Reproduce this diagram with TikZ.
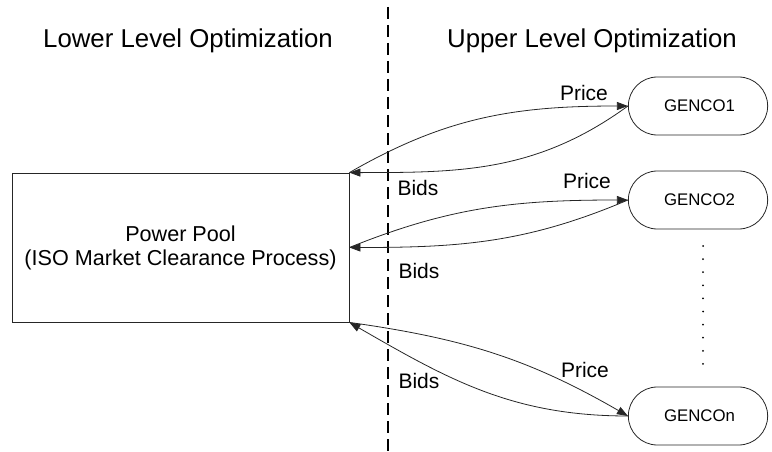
\documentclass[tikz,border=0pt]{standalone}
\usepackage{fontspec}
\setmainfont{Liberation Sans}
\usetikzlibrary{arrows.meta,shapes.misc}

\tikzset{
  every picture/.style={x=1pt,y=1pt},
  line/.style={draw=black!85, line width=0.8pt},
  flow/.style={line, -{Triangle[length=11pt,width=8pt]}},
  pool/.style={line, rectangle, minimum width=337pt, minimum height=149pt,
    align=center, font=\fontsize{21.6}{24}\selectfont},
  genco/.style={line, rounded rectangle, minimum width=146pt, minimum height=58pt,
    font=\fontsize{16.8}{20}\selectfont},
  heading/.style={anchor=base, font=\fontsize{25.8}{30}\selectfont},
  tag/.style={anchor=base, font=\fontsize{21}{24}\selectfont},
  divider/.style={draw=black, line width=1.1pt, dash pattern=on 12pt off 6pt},
  dot/.style={circle, fill=black, inner sep=0pt, minimum size=2pt}
}

\begin{document}
\begin{tikzpicture}
  \useasboundingbox (0,0) rectangle (772,451);

  % headings
  \node[heading] (lowerhead) at (188,403) {Lower Level Optimization};
  \node[heading] (upperhead) at (592,403) {Upper Level Optimization};

  % separator between the two levels
  \coordinate (divtop) at (388,444);
  \coordinate (divbot) at (388,0);
  \draw[divider] (divtop) -- (divbot);

  % market operator
  \node[pool] (pool) at (180.5,203.5) {Power Pool\\(ISO Market Clearance Process)};

  % generating companies
  \node[genco] (g1) at (698,345) {\hspace{3pt}GENCO1};
  \node[genco] (g2) at (698,251) {\hspace{3pt}GENCO2};
  \node[genco] (gn) at (698,35) {\hspace{3pt}GENCOn};

  % ellipsis between GENCO2 and GENCOn
  \foreach \k in {0,...,9} {
    \node[dot] (d\k) at (703,205-13.1*\k) {};
  }

  % price signals and bids
  \draw[flow] (pool.north east) to[out=30,in=180] (g1.west);
  \draw[flow] (g1.west) to[out=216,in=0] (pool.north east);

  \draw[flow] (pool.east) to[out=22,in=180] (g2.west);
  \draw[flow] (g2.west) to[out=203,in=0] (pool.east);

  \draw[flow] (pool.south east) to[out=-8,in=150] (gn.west);
  \draw[flow] (gn.west) to[out=180,in=-30] (pool.south east);

  % labels
  \node[tag] (p1) at (584,350) {Price};
  \node[tag] (b1) at (418,256) {Bids};
  \node[tag] (p2) at (587,263) {Price};
  \node[tag] (b2) at (419,173) {Bids};
  \node[tag] (p3) at (585,74) {Price};
  \node[tag] (b3) at (419,63) {Bids};
\end{tikzpicture}
\end{document}
